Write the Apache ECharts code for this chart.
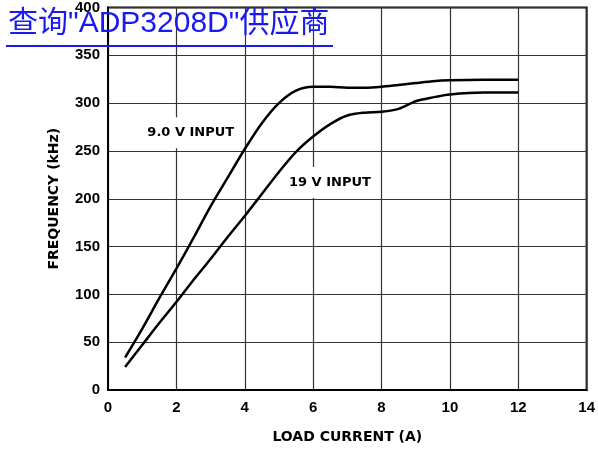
<!DOCTYPE html>
<html>
<head>
<meta charset="utf-8">
<script src="https://cdn.jsdelivr.net/npm/echarts@6/dist/echarts.min.js"></script>
<style>
  html, body { margin: 0; padding: 0; background: #fff; }
  #chart { width: 598px; height: 449px; }
</style>
</head>
<body>
<div id="chart"></div>
<script>
// Load current (A), shared by both curves
const loadCurrent = [0.5, 1, 1.5, 2, 2.5, 3, 3.5, 4, 4.5, 5, 5.5, 6, 6.5, 7, 7.5, 8, 8.5, 9, 9.5, 10, 11, 12];
// Switching frequency (kHz)
const freq9V = [34, 64, 96, 127, 159, 192, 222, 252, 279, 300, 313, 317, 317, 316, 316, 317, 319, 321, 323, 324, 324.5, 324.5];
const freq19V = [24, 47, 70, 92, 115, 137, 160, 182, 205, 228, 249, 265, 278, 287, 290, 291, 294, 302, 306, 309, 311, 311];
const xTicks = [0, 2, 4, 6, 8, 10, 12, 14];
const yTicks = [0, 50, 100, 150, 200, 250, 300, 350, 400];
const seriesNames = ['9.0 V INPUT', '19 V INPUT'];

function toPairs(xs, ys) {
  const result = [];
  for (let i = 0; i < xs.length; i++) {
    result.push([xs[i], ys[i]]);
  }
  return result;
}

const chart = echarts.init(document.getElementById('chart'));

const tickFont = {
  fontFamily: '"Liberation Sans", Arial, sans-serif',
  fontWeight: 'bold',
  fontSize: 15,
  color: '#000'
};
const nameFont = {
  fontFamily: '"DejaVu Sans", sans-serif',
  fontWeight: 'bold',
  fontSize: 14,
  color: '#000'
};
const noteLabel = {
  show: true,
  position: 'inside',
  formatter: '{b}',
  fontFamily: '"DejaVu Sans", sans-serif',
  fontWeight: 'bold',
  fontSize: 13,
  color: '#000',
  backgroundColor: '#fff',
  padding: [9, 4]
};

const option = {
  animation: false,
  backgroundColor: '#fff',
  grid: {
    left: 108,
    right: 10,
    top: 7,
    bottom: 56,
    show: true,
    borderColor: '#000',
    borderWidth: 2
  },
  xAxis: {
    type: 'value',
    min: xTicks[0],
    max: xTicks[xTicks.length - 1],
    interval: 2,
    name: 'LOAD CURRENT (A)',
    nameLocation: 'middle',
    nameGap: 40,
    nameTextStyle: nameFont,
    axisLine: { lineStyle: { color: '#000', width: 2 } },
    axisTick: { show: false },
    axisLabel: Object.assign({ margin: 10 }, tickFont),
    splitLine: { lineStyle: { color: '#333', width: 1.2 } }
  },
  yAxis: {
    type: 'value',
    min: yTicks[0],
    max: yTicks[yTicks.length - 1],
    interval: 50,
    name: 'FREQUENCY (kHz)',
    nameLocation: 'middle',
    nameGap: 47,
    nameTextStyle: nameFont,
    axisLine: { show: true, lineStyle: { color: '#000', width: 2 } },
    axisTick: { show: false },
    axisLabel: Object.assign({ margin: 8 }, tickFont),
    splitLine: { lineStyle: { color: '#333', width: 1.2 } }
  },
  series: [{
    name: seriesNames[0],
    type: 'line',
    data: toPairs(loadCurrent, freq9V),
    smooth: 0.3,
    symbol: 'none',
    lineStyle: { color: '#000', width: 2.5 },
    markPoint: {
      symbol: 'rect',
      symbolSize: 1,
      itemStyle: { color: 'transparent' },
      label: noteLabel,
      data: [{ name: seriesNames[0], coord: [2.42, 269] }]
    }
  }, {
    name: seriesNames[1],
    type: 'line',
    data: toPairs(loadCurrent, freq19V),
    smooth: 0.3,
    symbol: 'none',
    lineStyle: { color: '#000', width: 2.5 },
    markPoint: {
      symbol: 'rect',
      symbolSize: 1,
      itemStyle: { color: 'transparent' },
      label: noteLabel,
      data: [{ name: seriesNames[1], coord: [6.49, 217] }]
    }
  }],
  graphic: [{
    type: 'text',
    left: 8,
    top: 9,
    z: 100,
    style: {
      text: '查询"ADP3208D"供应商',
      font: '30px "Liberation Sans", "Noto Sans CJK SC", sans-serif',
      fill: '#1a1aee'
    }
  }, {
    type: 'line',
    z: 100,
    shape: { x1: 6, y1: 46, x2: 333, y2: 46 },
    style: { stroke: '#1a1aee', lineWidth: 2 }
  }]
};

chart.setOption(option);
</script>
</body>
</html>
